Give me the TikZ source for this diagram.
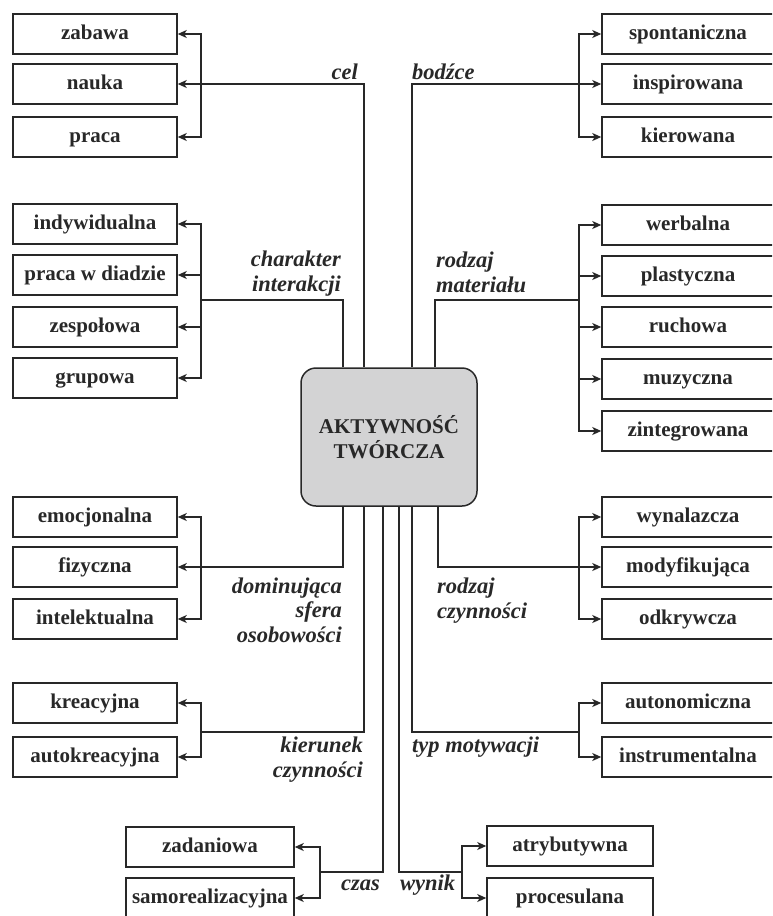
\documentclass[tikz,border=0pt]{standalone}
\usepackage{fontspec}
\setmainfont{Liberation Serif}
\usetikzlibrary{arrows.meta}
\definecolor{ink}{RGB}{40,40,40}
\definecolor{corefill}{RGB}{211,211,212}
\begin{document}
\begin{tikzpicture}[x=1pt,y=-1pt,
  item/.style={draw=ink, line width=1.5pt, fill=white, minimum height=40pt,
    inner sep=0pt, text height=15pt, text depth=5pt, text=ink,
    font=\fontsize{21}{24}\selectfont\bfseries},
  litem/.style={item, minimum width=164pt},
  ritem/.style={item, minimum width=172pt},
  core/.style={draw=ink, line width=1.5pt, fill=corefill, rounded corners=15pt,
    minimum width=176pt, minimum height=138pt, align=center, text=ink,
    font=\fontsize{21}{25}\selectfont\bfseries},
  lbl/.style={inner sep=0pt, text=ink,
    font=\fontsize{22.5}{24.5}\selectfont\bfseries\itshape},
  wire/.style={draw=ink, line width=1.4pt},
  tip/.style={wire, -{Stealth[length=9pt,width=8pt,inset=2.5pt]}}
]
\useasboundingbox (0,0) rectangle (772,916);
\clip (0,0) rectangle (772,916);

% central node
\node[core] (core) at (389,437) {AKTYWNOŚĆ\\TWÓRCZA};

% bus lines and trunk columns
\coordinate (lbus) at (201,0);
\coordinate (rbus) at (579,0);
\coordinate (colA) at (343,0);
\coordinate (colB) at (364,0);
\coordinate (colC) at (383,0);
\coordinate (colD) at (399,0);
\coordinate (colE) at (412,0);
\coordinate (colF) at (435,0);
\coordinate (colG) at (438,0);

% ---- cel ----
\node[litem] (zabawa) at (95,34) {zabawa};
\node[litem] (nauka) at (95,84) {nauka};
\node[litem] (praca) at (95,137) {praca};
\draw[tip] (core.north -| colB) |- (nauka.east);
\draw[tip] (nauka.east -| lbus) |- (zabawa.east);
\draw[tip] (nauka.east -| lbus) |- (praca.east);
\node[lbl, anchor=base east] (lcel) at (358,79) {cel};

% ---- bodzce ----
\node[ritem] (spont) at (688,34) {spontaniczna};
\node[ritem] (inspir) at (688,84) {inspirowana};
\node[ritem] (kierow) at (688,137) {kierowana};
\draw[tip] (core.north -| colE) |- (inspir.west);
\draw[tip] (inspir.west -| rbus) |- (spont.west);
\draw[tip] (inspir.west -| rbus) |- (kierow.west);
\node[lbl, anchor=base west] (lbodz) at (412,79) {bodźce};

% ---- charakter interakcji ----
\node[litem] (indyw) at (95,224) {indywidualna};
\node[litem] (diada) at (95,275) {praca w diadzie};
\node[litem] (zespol) at (95,327) {zespołowa};
\node[litem] (grupa) at (95,378) {grupowa};
\coordinate (chjoin) at (201,300);
\draw[wire] (core.north -| colA) |- (chjoin);
\draw[tip] (chjoin) |- (indyw.east);
\draw[tip] (chjoin) |- (diada.east);
\draw[tip] (chjoin) |- (zespol.east);
\draw[tip] (chjoin) |- (grupa.east);
% multi-line labels are anchored at the baseline of their last line
\node[lbl, anchor=base east, align=right] (lchar) at (341,291) {charakter\\interakcji};

% ---- rodzaj materialu ----
\node[ritem] (werb) at (688,225) {werbalna};
\node[ritem] (plast) at (688,276) {plastyczna};
\node[ritem] (ruch) at (688,327) {ruchowa};
\node[ritem] (muz) at (688,379) {muzyczna};
\node[ritem] (zint) at (688,431) {zintegrowana};
\coordinate (matjoin) at (579,300);
\draw[wire] (core.north -| colF) |- (matjoin);
\draw[tip] (matjoin) |- (werb.west);
\draw[tip] (matjoin) |- (plast.west);
\draw[tip] (matjoin) |- (ruch.west);
\draw[tip] (matjoin) |- (muz.west);
\draw[tip] (matjoin) |- (zint.west);
\node[lbl, anchor=base west, align=left] (lmat) at (436,292) {rodzaj\\materiału};

% ---- dominujaca sfera osobowosci ----
\node[litem] (emoc) at (95,517) {emocjonalna};
\node[litem] (fiz) at (95,567) {fizyczna};
\node[litem] (intel) at (95,619) {intelektualna};
\draw[tip] (core.south -| colA) |- (fiz.east);
\draw[tip] (fiz.east -| lbus) |- (emoc.east);
\draw[tip] (fiz.east -| lbus) |- (intel.east);
\node[lbl, anchor=base east, align=right] (lsfera) at (342,642) {dominująca\\sfera\\osobowości};

% ---- rodzaj czynnosci ----
\node[ritem] (wynal) at (688,517) {wynalazcza};
\node[ritem] (modyf) at (688,567) {modyfikująca};
\node[ritem] (odkr) at (688,619) {odkrywcza};
\draw[tip] (core.south -| colG) |- (modyf.west);
\draw[tip] (modyf.west -| rbus) |- (wynal.west);
\draw[tip] (modyf.west -| rbus) |- (odkr.west);
\node[lbl, anchor=base west, align=left] (lczyn) at (437,618) {rodzaj\\czynności};

% ---- kierunek czynnosci ----
\node[litem] (kreac) at (95,703) {kreacyjna};
\node[litem] (autok) at (95,757) {autokreacyjna};
\coordinate (kierjoin) at (201,732);
\draw[wire] (core.south -| colB) |- (kierjoin);
\draw[tip] (kierjoin) |- (kreac.east);
\draw[tip] (kierjoin) |- (autok.east);
\node[lbl, anchor=base east, align=right] (lkier) at (363,777) {kierunek\\czynności};

% ---- typ motywacji ----
\node[ritem] (auton) at (688,703) {autonomiczna};
\node[ritem] (instr) at (688,757) {instrumentalna};
\coordinate (motjoin) at (579,732);
\draw[wire] (core.south -| colE) |- (motjoin);
\draw[tip] (motjoin) |- (auton.west);
\draw[tip] (motjoin) |- (instr.west);
\node[lbl, anchor=base west] (lmot) at (412,752) {typ motywacji};

% ---- czas ----
\node[item, minimum width=168pt] (zadan) at (210,847) {zadaniowa};
\node[item, minimum width=168pt] (samor) at (210,898) {samorealizacyjna};
\coordinate (czasjoin) at (320,872);
\draw[wire] (core.south -| colC) |- (czasjoin);
\draw[tip] (czasjoin) |- (zadan.east);
\draw[tip] (czasjoin) |- (samor.east);
\node[lbl, anchor=base east] (lczas) at (380,890) {czas};

% ---- wynik ----
\node[item, minimum width=166pt] (atryb) at (570,846) {atrybutywna};
\node[item, minimum width=166pt] (proces) at (570,898) {procesulana};
\coordinate (wynjoin) at (462,872);
\draw[wire] (core.south -| colD) |- (wynjoin);
\draw[tip] (wynjoin) |- (atryb.west);
\draw[tip] (wynjoin) |- (proces.west);
\node[lbl, anchor=base west] (lwyn) at (400,890) {wynik};
\end{tikzpicture}
\end{document}
